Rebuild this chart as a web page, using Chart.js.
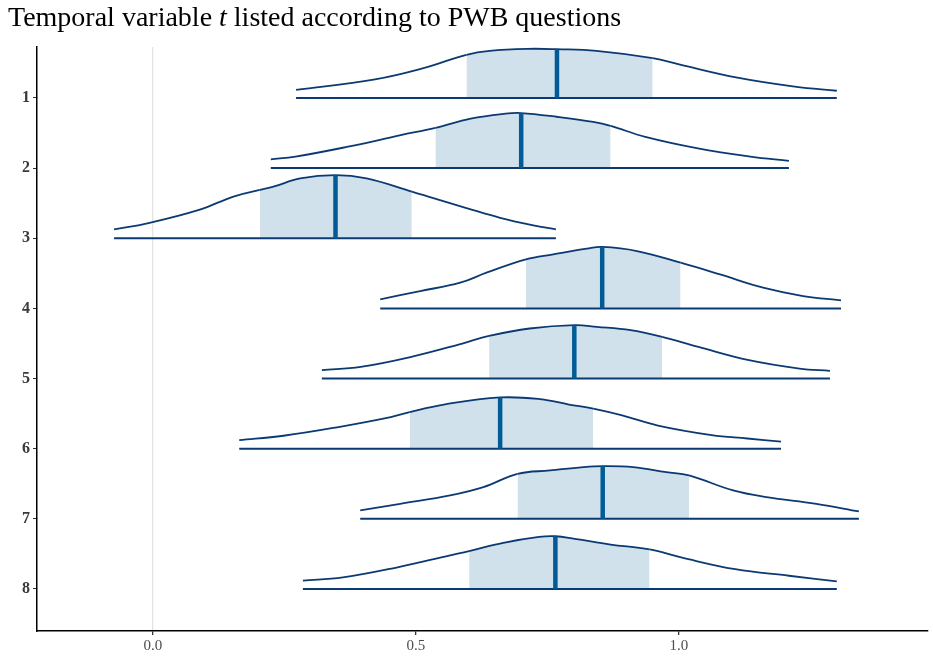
<!DOCTYPE html>
<html>
<head>
<meta charset="utf-8">
<script src="https://cdn.jsdelivr.net/npm/chart.js@4"></script>
<style>
  html, body { margin: 0; padding: 0; background: #fff; }
  #wrap { position: relative; width: 933px; height: 659px; }
  #title {
    position: absolute; left: 8px; top: 1px;
    font-family: "Liberation Serif", "Times New Roman", serif;
    font-size: 28px; color: #000; white-space: nowrap;
  }
</style>
</head>
<body>
<div id="wrap">
  <canvas id="myChart" width="933" height="659"></canvas>
  <div id="title">Temporal variable <i>t</i> listed according to PWB questions</div>
</div>
<script>
// PWB questions (rows, top to bottom)
const rows = [1, 2, 3, 4, 5, 6, 7, 8];
const xTicks = [0, 0.5, 1.0];

// 50% interval and median of t for each question
const lo50 = [0.596, 0.537, 0.203, 0.709, 0.639, 0.488, 0.693, 0.601];
const hi50 = [0.950, 0.870, 0.492, 1.003, 0.968, 0.837, 1.019, 0.944];
const medians = [0.768, 0.700, 0.347, 0.854, 0.801, 0.660, 0.855, 0.765];

// density estimate per question: x positions and (scaled) heights
const densX = [
  [0.272, 0.422, 0.516, 0.596, 0.640, 0.712, 0.768, 0.843, 0.950, 1.002, 1.111, 1.220, 1.300],
  [0.224, 0.271, 0.371, 0.471, 0.537, 0.604, 0.670, 0.700, 0.770, 0.837, 0.870, 0.936, 1.036, 1.136, 1.209],
  [-0.074, -0.006, 0.089, 0.153, 0.203, 0.229, 0.280, 0.347, 0.406, 0.492, 0.533, 0.596, 0.660, 0.723, 0.766],
  [0.432, 0.508, 0.584, 0.634, 0.709, 0.761, 0.825, 0.854, 0.920, 1.003, 1.078, 1.160, 1.236, 1.308],
  [0.321, 0.395, 0.491, 0.588, 0.639, 0.716, 0.801, 0.844, 0.908, 0.968, 1.037, 1.133, 1.229, 1.287],
  [0.164, 0.248, 0.350, 0.452, 0.488, 0.553, 0.660, 0.736, 0.791, 0.837, 0.892, 0.960, 1.062, 1.130, 1.194],
  [0.394, 0.470, 0.565, 0.628, 0.693, 0.755, 0.818, 0.855, 0.913, 0.976, 1.019, 1.103, 1.166, 1.261, 1.342],
  [0.285, 0.361, 0.463, 0.565, 0.601, 0.666, 0.734, 0.765, 0.802, 0.870, 0.944, 1.006, 1.107, 1.209, 1.300]
];
const densH = [
  [0.116, 0.266, 0.430, 0.616, 0.672, 0.701, 0.696, 0.672, 0.568, 0.476, 0.291, 0.163, 0.103],
  [0.126, 0.164, 0.306, 0.470, 0.574, 0.705, 0.776, 0.785, 0.729, 0.658, 0.602, 0.446, 0.282, 0.164, 0.103],
  [0.127, 0.221, 0.408, 0.595, 0.689, 0.736, 0.853, 0.900, 0.853, 0.666, 0.572, 0.431, 0.291, 0.183, 0.127],
  [0.128, 0.247, 0.366, 0.509, 0.700, 0.771, 0.852, 0.876, 0.818, 0.652, 0.485, 0.295, 0.176, 0.114],
  [0.119, 0.166, 0.309, 0.499, 0.608, 0.713, 0.761, 0.737, 0.689, 0.594, 0.451, 0.262, 0.142, 0.109],
  [0.121, 0.184, 0.305, 0.450, 0.522, 0.629, 0.730, 0.706, 0.629, 0.571, 0.474, 0.329, 0.193, 0.145, 0.101],
  [0.119, 0.214, 0.333, 0.451, 0.641, 0.689, 0.737, 0.751, 0.737, 0.665, 0.618, 0.404, 0.309, 0.214, 0.105],
  [0.117, 0.164, 0.305, 0.479, 0.540, 0.657, 0.741, 0.751, 0.713, 0.633, 0.563, 0.445, 0.281, 0.188, 0.108]
];

const outline = "#0b3a72";
const medColor = "#005b96";
const shade = "#d1e1ec";
const none = "rgba(0,0,0,0)";

const datasets = [];
rows.forEach((row, i) => {
  const xs = densX[i];
  const hs = densH[i];
  // density curve, filled to the baseline only inside the 50% interval
  datasets.push({
    data: xs.map((x, k) => ({ x: x, y: row - hs[k] })),
    borderColor: outline,
    borderWidth: 1.8,
    backgroundColor: none,
    fill: { value: row },
    tension: 0.4,
    pointRadius: 0,
    segment: {
      backgroundColor: (c) =>
        c.p0.parsed.x >= lo50[i] - 1e-6 && c.p1.parsed.x <= hi50[i] + 1e-6 ? shade : none,
    },
    order: 3,
  });
  // baseline
  datasets.push({
    data: [{ x: xs[0], y: row }, { x: xs[xs.length - 1], y: row }],
    borderColor: outline,
    borderWidth: 2,
    pointRadius: 0,
    fill: false,
    order: 2,
  });
  // median
  const m = xs.indexOf(medians[i]);
  datasets.push({
    data: [{ x: medians[i], y: row }, { x: medians[i], y: row - hs[m] }],
    borderColor: medColor,
    borderWidth: 4.5,
    borderCapStyle: "butt",
    pointRadius: 0,
    fill: false,
    order: 1,
  });
});

const ctx = document.getElementById("myChart");
new Chart(ctx, {
  type: "line",
  data: { datasets: datasets },
  options: {
    responsive: false,
    animation: false,
    layout: { padding: { top: 47, right: 5, left: 0, bottom: 0 } },
    plugins: {
      legend: { display: false },
      tooltip: { enabled: false },
    },
    scales: {
      x: {
        type: "linear",
        min: -0.2205,
        max: 1.4734,
        afterBuildTicks: (s) => { s.ticks = xTicks.map((v) => ({ value: v })); },
        afterFit: (s) => { s.height = 28; },
        ticks: {
          callback: (v) => Number(v).toFixed(1),
          color: "#4d4d4d",
          font: { family: "Liberation Serif", size: 15 },
          padding: 2,
          maxRotation: 0,
        },
        grid: {
          color: (c) => (c.tick && c.tick.value === 0 ? "#e3e3e3" : none),
          lineWidth: 1.3,
          tickColor: "#333",
          tickLength: 4,
        },
        border: { color: "#000", width: 1.5 },
      },
      y: {
        type: "linear",
        reverse: true,
        min: 0.273,
        max: 8.6,
        afterBuildTicks: (s) => { s.ticks = rows.map((v) => ({ value: v })); },
        afterFit: (s) => { s.width = 37; },
        ticks: {
          color: "#3a3a3a",
          font: { family: "Liberation Serif", size: 16, weight: "bold" },
          padding: 3,
        },
        grid: {
          drawOnChartArea: false,
          tickColor: "#333",
          tickLength: 4,
        },
        border: { color: "#000", width: 1.5 },
      },
    },
  },
});
</script>
</body>
</html>
